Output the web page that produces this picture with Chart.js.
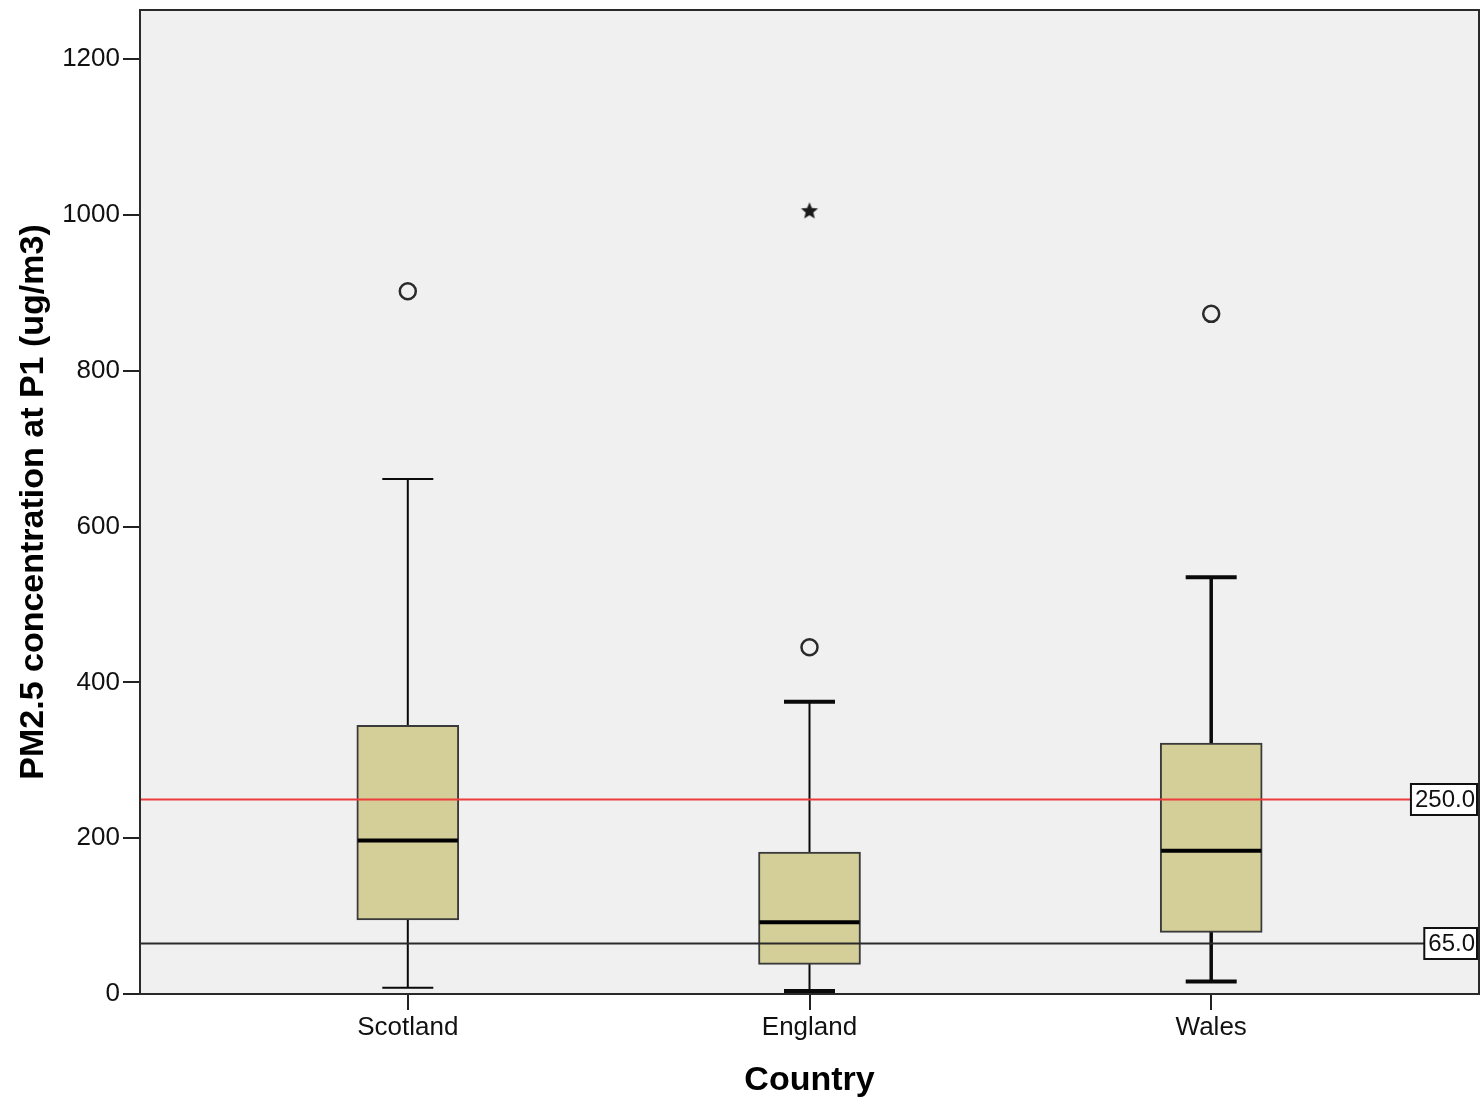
<!DOCTYPE html>
<html>
<head>
<meta charset="utf-8">
<script src="https://cdn.jsdelivr.net/npm/chart.js@4.4.1/dist/chart.umd.min.js"></script>
<style>
  html, body { margin: 0; padding: 0; background: #ffffff; overflow: hidden; }
  #wrap { width: 1484px; height: 1101px; position: relative; }
</style>
</head>
<body>
<div id="wrap"><canvas id="c"></canvas></div>
<script>
// Box-plot summary per country (ug/m3)
const countries   = ['Scotland', 'England', 'Wales'];
const whiskerLow  = [8, 4, 16];
const q1          = [95, 38, 79];
const median      = [197, 92, 184];
const q3          = [345, 182, 322];
const whiskerHigh = [661, 375, 535];

// Outliers (circles) and extreme values (stars)
const outlierCountry = [0, 1, 2];
const outlierValue   = [902, 445, 873];
const extremeCountry = [1];
const extremeValue   = [1006];

// Reference lines
const refValues = [250, 65];
const refLabels = ['250.0', '65.0'];
const refColors = ['#ee3b3b', '#2a2a2a'];

const yTickValues = [0, 200, 400, 600, 800, 1000, 1200];

const FONT = '"Liberation Sans", Arial, Helvetica, sans-serif';
Chart.defaults.font.family = FONT;
Chart.defaults.color = '#111';

// five-point star marker for extreme values
function makeStar() {
  const s = 22, cv = document.createElement('canvas');
  cv.width = s; cv.height = s;
  const g = cv.getContext('2d');
  g.beginPath();
  for (let k = 0; k < 10; k++) {
    const r = k % 2 === 0 ? 9 : 4;
    const a = -Math.PI / 2 + k * Math.PI / 5;
    const px = s / 2 + r * Math.cos(a), py = s / 2 + 1 + r * Math.sin(a);
    if (k === 0) g.moveTo(px, py); else g.lineTo(px, py);
  }
  g.closePath();
  g.fillStyle = '#1a1a1a';
  g.fill();
  return cv;
}

const BOX_W = 102, CAP_W = 51;
const whiskerWidths = [2, 2, 3.5];
const capWidths = [2, 4, 4];

const boxPlotParts = {
  id: 'boxPlotParts',
  beforeDraw(chart) {
    const { ctx, chartArea: a } = chart;
    ctx.save();
    ctx.fillStyle = '#f0f0f0';
    ctx.fillRect(a.left, a.top, a.right - a.left, a.bottom - a.top);
    ctx.restore();
  },
  beforeDatasetsDraw(chart) {
    const { ctx, scales: { x, y } } = chart;
    ctx.save();
    ctx.strokeStyle = '#0a0a0a';
    countries.forEach((c, i) => {
      const cx = x.getPixelForValue(i);
      ctx.lineWidth = whiskerWidths[i];
      ctx.beginPath();
      ctx.moveTo(cx, y.getPixelForValue(whiskerLow[i]));
      ctx.lineTo(cx, y.getPixelForValue(whiskerHigh[i]));
      ctx.stroke();
      ctx.lineWidth = capWidths[i];
      ctx.beginPath();
      [whiskerLow[i], whiskerHigh[i]].forEach(v => {
        const py = y.getPixelForValue(v);
        ctx.moveTo(cx - CAP_W / 2, py);
        ctx.lineTo(cx + CAP_W / 2, py);
      });
      ctx.stroke();
    });
    ctx.restore();
  },
  afterDatasetsDraw(chart) {
    const { ctx, chartArea: a, scales: { x, y } } = chart;
    ctx.save();
    // medians
    ctx.strokeStyle = '#000';
    ctx.lineWidth = 4;
    countries.forEach((c, i) => {
      const cx = x.getPixelForValue(i);
      const py = y.getPixelForValue(median[i]);
      ctx.beginPath();
      ctx.moveTo(cx - BOX_W / 2 + 1, py);
      ctx.lineTo(cx + BOX_W / 2 - 1, py);
      ctx.stroke();
    });
    // reference lines with value tags
    ctx.font = '24px ' + FONT;
    refValues.forEach((v, k) => {
      const py = Math.round(y.getPixelForValue(v)) + 0.5;
      ctx.strokeStyle = refColors[k];
      ctx.lineWidth = 2;
      ctx.beginPath();
      ctx.moveTo(a.left, py);
      ctx.lineTo(a.right, py);
      ctx.stroke();
      const tw = ctx.measureText(refLabels[k]).width;
      const bw = tw + 6, bh = 31;
      const bx = a.right - 2 - bw, by = py - bh / 2;
      ctx.fillStyle = '#ffffff';
      ctx.fillRect(bx, by, bw, bh);
      ctx.fillStyle = '#111';
      ctx.textAlign = 'right';
      ctx.textBaseline = 'middle';
      ctx.fillText(refLabels[k], a.right - 4, py + 1);
      ctx.strokeStyle = '#111';
      ctx.lineWidth = 2;
      ctx.strokeRect(bx, by, bw, bh);
    });
    ctx.restore();
  },
  afterDraw(chart) {
    const { ctx, chartArea: a } = chart;
    ctx.save();
    ctx.strokeStyle = '#2a2a2a';
    ctx.lineWidth = 2;
    ctx.strokeRect(a.left, a.top, a.right - a.left, a.bottom - a.top);
    ctx.restore();
  }
};

function noEdgePadding(s) {
  s.paddingTop = 0; s.paddingBottom = 0; s.paddingLeft = 0; s.paddingRight = 0;
}

new Chart(document.getElementById('c'), {
  type: 'bar',
  data: {
    datasets: [
      {
        label: 'IQR',
        data: countries.map((c, i) => ({ x: i, y: [q1[i], q3[i]] })),
        backgroundColor: '#d4cf99',
        borderColor: '#3a3a3a',
        borderWidth: 2,
        borderSkipped: false,
        barThickness: BOX_W
      },
      {
        type: 'scatter',
        label: 'Outliers',
        data: outlierCountry.map((c, k) => ({ x: c, y: outlierValue[k] })),
        pointStyle: 'circle',
        radius: 8,
        borderWidth: 2.5,
        borderColor: '#2a2a2a',
        backgroundColor: 'rgba(0,0,0,0)'
      },
      {
        type: 'scatter',
        label: 'Extremes',
        data: extremeCountry.map((c, k) => ({ x: c, y: extremeValue[k] })),
        pointStyle: makeStar(),
        radius: 11
      }
    ]
  },
  options: {
    responsive: true,
    maintainAspectRatio: false,
    animation: false,
    layout: { autoPadding: false, padding: { left: 0, right: 5, top: 10, bottom: 0 } },
    plugins: { legend: { display: false }, tooltip: { enabled: false } },
    scales: {
      x: {
        type: 'linear',
        min: -2 / 3,
        max: 8 / 3,
        offset: false,
        afterBuildTicks: s => { s.ticks = countries.map((c, i) => ({ value: i })); },
        afterFit: s => { s.height = 107; noEdgePadding(s); },
        ticks: {
          callback: v => countries[v],
          font: { size: 26 },
          color: '#111',
          padding: 2,
          maxRotation: 0
        },
        grid: { display: true, offset: false, drawOnChartArea: false, drawTicks: true, tickLength: 16, color: '#222', lineWidth: 2 },
        border: { display: false },
        title: { display: true, text: 'Country', font: { size: 34, weight: 'bold' }, color: '#000', padding: { top: 0, bottom: 0 } }
      },
      y: {
        type: 'linear',
        min: 0,
        max: 1263,
        afterBuildTicks: s => { s.ticks = yTickValues.map(v => ({ value: v })); },
        afterFit: s => { s.width = 140; noEdgePadding(s); },
        ticks: { font: { size: 26 }, color: '#111', padding: 3, callback: v => String(v) },
        grid: { display: true, drawOnChartArea: false, drawTicks: true, tickLength: 17, color: '#222', lineWidth: 2 },
        border: { display: false },
        title: { display: true, text: 'PM2.5 concentration at P1 (ug/m3)', font: { size: 34, weight: 'bold' }, color: '#000', padding: { top: 13, bottom: 0 } }
      }
    }
  },
  plugins: [boxPlotParts]
});
</script>
</body>
</html>
